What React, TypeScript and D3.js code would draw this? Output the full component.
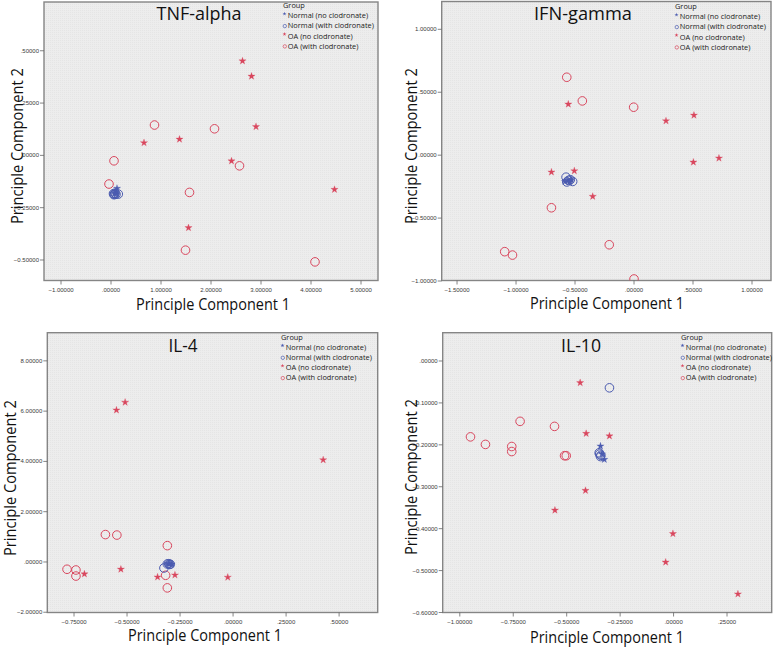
import React from "react";
import * as d3 from "d3";

// ---------- shared ----------
const groupNames = [
  "Normal (no clodronate)",
  "Normal (with clodronate)",
  "OA (no clodronate)",
  "OA (with clodronate)",
];
const groupColors = ["#4b5bb0", "#4b5bb0", "#d9475e", "#d9475e"];
const groupShapes = ["star", "circle", "star", "circle"];
const axisLabelX = "Principle Component 1";
const axisLabelY = "Principle Component 2";

// ---------- TNF-alpha ----------
const tnfNormalNo: [number, number][] = [[0.12, -0.158], [0.09, -0.178], [0.1, -0.184], [0.07, -0.182]];
const tnfNormalWith: [number, number][] = [[0.05, -0.183], [0.07, -0.186], [0.08, -0.181], [0.1, -0.186], [0.146, -0.185], [0.06, -0.188]];
const tnfOANo: [number, number][] = [[2.63, 0.451], [2.81, 0.378], [2.9, 0.137], [0.66, 0.06], [1.37, 0.077], [2.41, -0.027], [4.47, -0.163], [1.55, -0.346]];
const tnfOAWith: [number, number][] = [[0.87, 0.145], [2.07, 0.127], [0.06, -0.026], [2.57, -0.05], [-0.04, -0.137], [1.57, -0.177], [1.49, -0.453], [4.08, -0.509]];
const tnfXTicks = [-1, 0, 1, 2, 3, 4, 5];
const tnfYTicks = [-0.5, -0.25, 0, 0.25, 0.5];

// ---------- IFN-gamma ----------
const ifnNormalNo: [number, number][] = [[-0.56, -0.2], [-0.53, -0.195], [-0.545, -0.212], [-0.585, -0.21]];
const ifnNormalWith: [number, number][] = [[-0.576, -0.175], [-0.57, -0.213], [-0.555, -0.2], [-0.52, -0.209], [-0.54, -0.195]];
const ifnOANo: [number, number][] = [[-0.557, 0.405], [0.271, 0.272], [0.508, 0.317], [0.503, -0.056], [0.72, -0.024], [-0.7, -0.135], [-0.506, -0.125], [-0.35, -0.328]];
const ifnOAWith: [number, number][] = [[-0.57, 0.619], [-0.438, 0.431], [-0.003, 0.381], [-0.7, -0.418], [-0.21, -0.712], [-1.096, -0.767], [-1.03, -0.794], [0.0, -0.984]];
const ifnXTicks = [-1.5, -1, -0.5, 0, 0.5, 1];
const ifnYTicks = [-1, -0.5, 0, 0.5, 1];

// ---------- IL-4 ----------
const il4NormalNo: [number, number][] = [[-0.3, -0.08], [-0.29, -0.1], [-0.305, -0.06]];
const il4NormalWith: [number, number][] = [[-0.326, -0.24], [-0.304, -0.07], [-0.296, -0.09], [-0.3, -0.1], [-0.31, -0.08]];
const il4OANo: [number, number][] = [[-0.55, 6.04], [-0.509, 6.35], [0.425, 4.06], [-0.701, -0.48], [-0.529, -0.29], [-0.356, -0.6], [-0.274, -0.52], [-0.025, -0.61]];
const il4OAWith: [number, number][] = [[-0.602, 1.09], [-0.548, 1.07], [-0.31, 0.65], [-0.783, -0.29], [-0.741, -0.32], [-0.741, -0.56], [-0.318, -0.53], [-0.31, -1.03]];
const il4XTicks = [-0.75, -0.5, -0.25, 0, 0.25, 0.5];
const il4YTicks = [-2, 0, 2, 4, 6, 8];

// ---------- IL-10 ----------
const il10NormalNo: [number, number][] = [[-0.342, -0.203], [-0.324, -0.235], [-0.335, -0.222]];
const il10NormalWith: [number, number][] = [[-0.3, -0.064], [-0.346, -0.222], [-0.34, -0.225], [-0.348, -0.219], [-0.342, -0.228]];
const il10OANo: [number, number][] = [[-0.437, -0.052], [-0.409, -0.173], [-0.3, -0.179], [-0.412, -0.309], [-0.555, -0.356], [-0.003, -0.412], [-0.037, -0.48], [0.301, -0.556]];
const il10OAWith: [number, number][] = [[-0.718, -0.144], [-0.557, -0.156], [-0.95, -0.181], [-0.88, -0.199], [-0.757, -0.204], [-0.757, -0.216], [-0.51, -0.226], [-0.502, -0.226]];
const il10XTicks = [-1, -0.75, -0.5, -0.25, 0, 0.25];
const il10YTicks = [-0.6, -0.5, -0.4, -0.3, -0.2, -0.1, 0];

type Pt = [number, number];
interface PanelCfg {
  title: string;
  titleX: number; titleY: number; titleW: number;
  frame: { x0: number; x1: number; y0: number; y1: number };
  xDomain: [number, number];
  yDomain: [number, number];
  xTicks: number[];
  yTicks: number[];
  series: Pt[][];
  legendX: number; legendY: number;
  xLabelX: number; xLabelY: number;
  yLabelX: number; yLabelY: number;
}

const panels: PanelCfg[] = [
  {
    title: "TNF-alpha", titleX: 199, titleY: 19.5, titleW: 85,
    frame: { x0: 44, x1: 378, y0: 2, y1: 280.5 },
    xDomain: [-1.34, 5.34], yDomain: [-0.598, 0.733],
    xTicks: tnfXTicks, yTicks: tnfYTicks,
    series: [tnfNormalNo, tnfNormalWith, tnfOANo, tnfOAWith],
    legendX: 283, legendY: 8.3,
    xLabelX: 213, xLabelY: 310, yLabelX: 23, yLabelY: 146,
  },
  {
    title: "IFN-gamma", titleX: 583, titleY: 20, titleW: 98,
    frame: { x0: 441.7, x1: 771, y0: 1.5, y1: 280.5 },
    xDomain: [-1.63, 1.161], yDomain: [-0.996, 1.221],
    xTicks: ifnXTicks, yTicks: ifnYTicks,
    series: [ifnNormalNo, ifnNormalWith, ifnOANo, ifnOAWith],
    legendX: 675, legendY: 9.3,
    xLabelX: 607, xLabelY: 309, yLabelX: 416.5, yLabelY: 146,
  },
  {
    title: "IL-4", titleX: 183, titleY: 351.7, titleW: 29,
    frame: { x0: 47.3, x1: 377.7, y0: 332.7, y1: 612.5 },
    xDomain: [-0.876, 0.682], yDomain: [-2.01, 9.12],
    xTicks: il4XTicks, yTicks: il4YTicks,
    series: [il4NormalNo, il4NormalWith, il4OANo, il4OAWith],
    legendX: 281, legendY: 340,
    xLabelX: 205, xLabelY: 641, yLabelX: 16, yLabelY: 478,
  },
  {
    title: "IL-10", titleX: 581, titleY: 351.7, titleW: 40,
    frame: { x0: 442.7, x1: 771.7, y0: 332.7, y1: 612.5 },
    xDomain: [-1.08, 0.459], yDomain: [-0.6, 0.0675],
    xTicks: il10XTicks, yTicks: il10YTicks,
    series: [il10NormalNo, il10NormalWith, il10OANo, il10OAWith],
    legendX: 681, legendY: 340,
    xLabelX: 607, xLabelY: 643, yLabelX: 416.5, yLabelY: 477,
  },
];

const fmt = (v: number) => d3.format(".5f")(v).replace(/^(-?)0\./, "$1.");

const starPath = d3.symbol().type(d3.symbolStar).size(16)() as string;
const starSmall = d3.symbol().type(d3.symbolStar).size(5)() as string;

function Panel({ cfg }: { cfg: PanelCfg }) {
  const { frame } = cfg;
  const x = d3.scaleLinear().domain(cfg.xDomain).range([frame.x0, frame.x1]);
  const y = d3.scaleLinear().domain(cfg.yDomain).range([frame.y1, frame.y0]);
  const clipId = "clip-" + cfg.title.replace(/[^a-zA-Z0-9]/g, "");
  return (
    <g>
      <defs>
        <clipPath id={clipId}>
          <rect x={frame.x0} y={frame.y0} width={frame.x1 - frame.x0} height={frame.y1 - frame.y0} />
        </clipPath>
      </defs>
      <rect
        x={frame.x0}
        y={frame.y0}
        width={frame.x1 - frame.x0}
        height={frame.y1 - frame.y0}
        fill="url(#dots)"
        stroke="#858585"
        strokeWidth={1.4}
      />
      {/* x ticks */}
      {cfg.xTicks.map((t) => (
        <g key={"x" + t}>
          <line x1={x(t)} x2={x(t)} y1={frame.y1} y2={frame.y1 + 4} stroke="#666" strokeWidth={0.8} />
          <text x={x(t)} y={frame.y1 + 11} fontSize={6} textAnchor="middle" fill="#3a3a3a"
            fontFamily="'Liberation Sans', Arial, sans-serif">{fmt(t)}</text>
        </g>
      ))}
      {/* y ticks */}
      {cfg.yTicks.map((t) => (
        <g key={"y" + t}>
          <line x1={frame.x0 - 4} x2={frame.x0} y1={y(t)} y2={y(t)} stroke="#666" strokeWidth={0.8} />
          <text x={frame.x0 - 5} y={y(t) + 2} fontSize={6} textAnchor="end" fill="#3a3a3a"
            fontFamily="'Liberation Sans', Arial, sans-serif">{fmt(t)}</text>
        </g>
      ))}
      {/* points */}
      <g clipPath={`url(#${clipId})`}>
        {[3, 2, 1, 0].map((gi) =>
          cfg.series[gi].map((p, i) =>
            groupShapes[gi] === "star" ? (
              <path key={gi + "-" + i} d={starPath} transform={`translate(${x(p[0])},${y(p[1])})`}
                fill={groupColors[gi]} stroke={groupColors[gi]} strokeWidth={0.3} />
            ) : (
              <circle key={gi + "-" + i} cx={x(p[0])} cy={y(p[1])} r={4.3} fill="none"
                stroke={groupColors[gi]} strokeWidth={1} />
            )
          )
        )}
      </g>
      {/* title */}
      <text x={cfg.titleX} y={cfg.titleY} fontSize={18.5} textAnchor="middle" fill="#111"
        fontFamily="'Open Sans', sans-serif" textLength={cfg.titleW} lengthAdjust="spacingAndGlyphs">
        {cfg.title}
      </text>
      {/* legend */}
      <g fontFamily="'Open Sans', sans-serif" fontSize={7.4} fill="#222">
        <text x={cfg.legendX} y={cfg.legendY}>Group</text>
        {groupNames.map((g, i) => {
          const yy = cfg.legendY + 10 * (i + 1) + (i > 1 ? 0.3 : 0);
          return (
            <g key={g}>
              {groupShapes[i] === "star" ? (
                <path d={starSmall} transform={`translate(${cfg.legendX + 1.5},${yy - 4.5})`}
                  fill={groupColors[i]} />
              ) : (
                <circle cx={cfg.legendX + 1.8} cy={yy - 2.2} r={1.7} fill="none" stroke={groupColors[i]} strokeWidth={0.7} />
              )}
              <text x={cfg.legendX + 4.8} y={yy}>{g}</text>
            </g>
          );
        })}
      </g>
      {/* axis labels */}
      <text x={cfg.xLabelX} y={cfg.xLabelY} fontSize={15.5} textAnchor="middle" fill="#111"
        fontFamily="'Open Sans', sans-serif" textLength={154} lengthAdjust="spacingAndGlyphs">
        {axisLabelX}
      </text>
      <text transform={`translate(${cfg.yLabelX},${cfg.yLabelY}) rotate(-90)`} fontSize={15.5}
        textAnchor="middle" fill="#111" fontFamily="'Open Sans', sans-serif"
        textLength={156} lengthAdjust="spacingAndGlyphs">
        {axisLabelY}
      </text>
    </g>
  );
}

export default function App() {
  return (
    <svg
      width={778}
      height={647}
      viewBox="0 0 778 647"
      style={{ position: "absolute", left: 0, top: 0, background: "#fff" }}
    >
      <defs>
        <pattern id="dots" width={2} height={2} patternUnits="userSpaceOnUse">
          <rect width={2} height={2} fill="#ededed" />
          <rect width={1} height={1} fill="#e5e5e5" />
        </pattern>
      </defs>
      <rect width={778} height={647} fill="#fff" />
      {panels.map((p) => (
        <Panel key={p.title} cfg={p} />
      ))}
    </svg>
  );
}
